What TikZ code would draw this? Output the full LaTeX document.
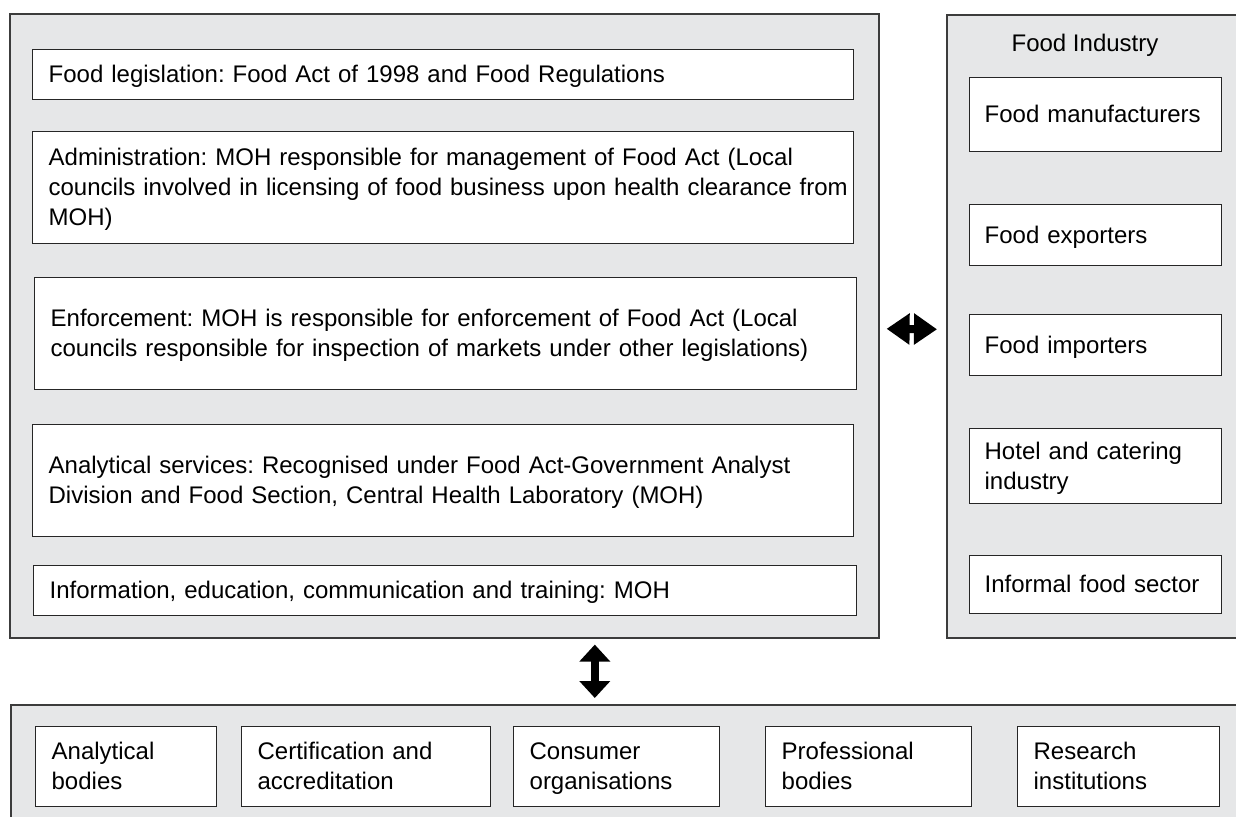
\documentclass[tikz,border=0pt]{standalone}
\usepackage{fontspec}
\setmainfont{Liberation Sans}
\usetikzlibrary{arrows.meta}
\definecolor{panelgray}{HTML}{E6E7E8}
\definecolor{edgegray}{HTML}{3C3C3C}
\frenchspacing
\newcommand\topstrut{\rule{0pt}{21pt}}
\newcommand\botstrut{\rule[-5pt]{0pt}{5pt}}
\tikzset{
  panel/.style={draw=edgegray, line width=1.6pt, fill=panelgray, anchor=north west, inner sep=0pt},
  itembox/.style={draw=black!85, line width=1.3pt, fill=white, anchor=north west, align=left, inner xsep=16pt, inner ysep=0pt,
    execute at begin node=\topstrut, execute at end node=\botstrut},
  sidearrow/.style={line width=8pt, {Triangle[width=30pt,length=23pt]}-{Triangle[width=30pt,length=23pt]}},
  downarrow/.style={line width=8pt, {Triangle[width=30pt,length=17pt]}-{Triangle[width=30pt,length=17pt]}}
}
\begin{document}
\begin{tikzpicture}[x=1pt, y=-1pt, font=\fontsize{24}{30}\selectfont]
\clip (0,0) rectangle (1236,816);
\fill[white] (0,0) rectangle (1236,816);

% outer panels
\node[panel, minimum width=869pt, minimum height=624pt] (gov) at (9,13) {};
\node[panel, minimum width=330pt, minimum height=623pt] (ind) at (946,14) {};
\node[panel, minimum width=1260pt, minimum height=150pt] (stake) at (10,704) {};

% government side
\node[itembox, minimum width=821pt, text width=789pt, minimum height=50pt] (legis) at (32,49)
  {Food legislation: Food Act of 1998 and Food Regulations};
\node[itembox, minimum width=821pt, text width=789pt, minimum height=112pt] (admin) at (32,131)
  {Administration: MOH responsible for management of Food Act (Local\\
   \mbox{councils involved in licensing of food business upon health clearance from}\\
   MOH)};
\node[itembox, minimum width=822pt, text width=790pt, minimum height=112pt] (enforce) at (34,277)
  {Enforcement: MOH is responsible for enforcement of Food Act (Local\\
   \mbox{councils responsible for inspection of markets under other legislations)}};
\node[itembox, minimum width=821pt, text width=789pt, minimum height=112pt] (analysis) at (32,424)
  {Analytical services: Recognised under Food Act-Government Analyst\\
   Division and Food Section, Central Health Laboratory (MOH)};
\node[itembox, minimum width=823pt, text width=791pt, minimum height=50pt] (inform) at (33,565)
  {Information, education, communication and training: MOH};

% industry side
\node (indtitle) at (1085,45) {Food Industry};
\node[itembox, minimum width=252pt, text width=222pt, inner xsep=15pt, minimum height=74pt] (manuf) at (969,77) {\mbox{Food manufacturers}};
\node[itembox, minimum width=252pt, text width=222pt, inner xsep=15pt, minimum height=61pt] (export) at (969,204) {Food exporters};
\node[itembox, minimum width=252pt, text width=222pt, inner xsep=15pt, minimum height=61pt] (import) at (969,314) {Food importers};
\node[itembox, minimum width=252pt, text width=222pt, inner xsep=15pt, minimum height=75pt] (hotel) at (969,428) {Hotel and catering\\industry};
\node[itembox, minimum width=252pt, text width=222pt, inner xsep=15pt, minimum height=58pt] (informal) at (969,555) {Informal food sector};

% other stakeholders
\node[itembox, minimum width=181pt, text width=149pt, minimum height=80pt] (labs) at (35,726) {Analytical\\bodies};
\node[itembox, minimum width=249pt, text width=217pt, minimum height=80pt] (certif) at (241,726) {Certification and\\accreditation};
\node[itembox, minimum width=206pt, text width=174pt, minimum height=80pt] (consumer) at (513,726) {Consumer\\organisations};
\node[itembox, minimum width=206pt, text width=174pt, minimum height=80pt] (prof) at (765,726) {Professional\\bodies};
\node[itembox, minimum width=202pt, text width=170pt, minimum height=80pt] (research) at (1017,726) {Research\\institutions};

% links
\draw[sidearrow] ([xshift=7pt,yshift=-3pt]gov.east) -- ([xshift=-9pt,yshift=-3pt]ind.west);
\draw[downarrow] ([xshift=150.5pt,yshift=-6pt]gov.south) -- ([xshift=150.5pt,yshift=6pt]gov.south |- stake.north);
\end{tikzpicture}
\end{document}
